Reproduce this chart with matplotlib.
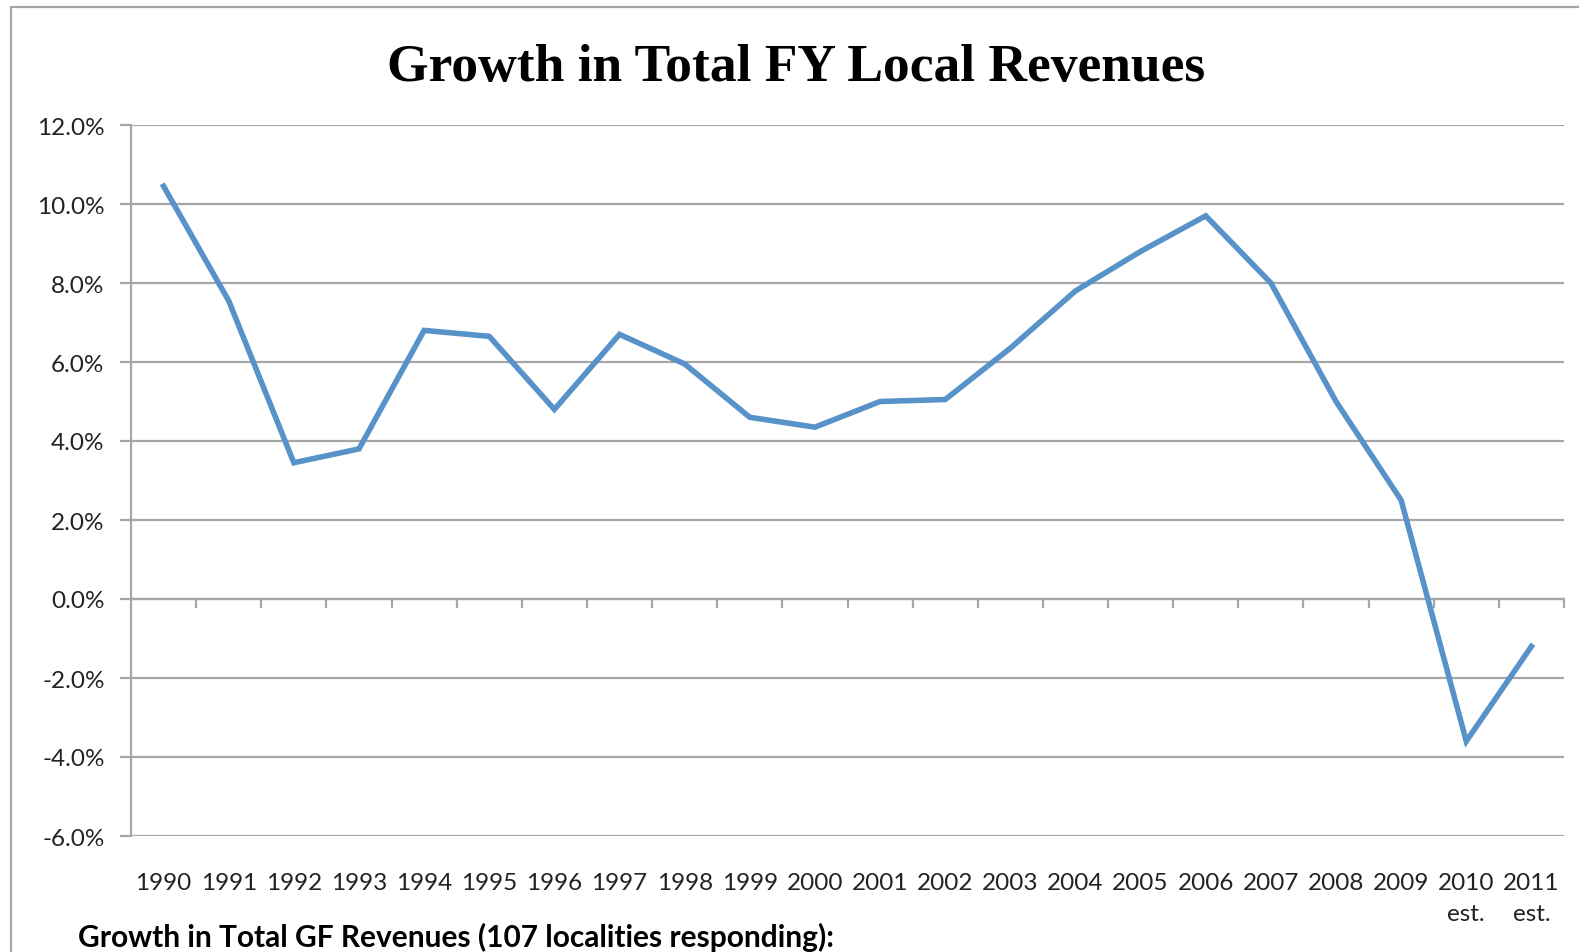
import numpy as np
import matplotlib.pyplot as plt
from matplotlib.patches import Rectangle
from matplotlib.ticker import FuncFormatter

# Data
years = ["1990", "1991", "1992", "1993", "1994", "1995", "1996", "1997", "1998", "1999", "2000",
         "2001", "2002", "2003", "2004", "2005", "2006", "2007", "2008", "2009", "2010\nest.", "2011\nest."]
growth = [10.45, 7.55, 3.45, 3.8, 6.8, 6.65, 4.8, 6.7, 5.95, 4.6, 4.35,
          5.0, 5.05, 6.35, 7.8, 8.8, 9.7, 8.0, 5.0, 2.5, -3.6, -1.2]
yticks = [-6, -4, -2, 0, 2, 4, 6, 8, 10, 12]

W, H = 1579, 953
fig = plt.figure(figsize=(W / 100, H / 100), dpi=100)
fig.patch.set_facecolor("white")

grid_col = "#a6a6a6"
line_col = "#5792c9"
lab_font = "Lato"

# outer chart border (only left and top are visible in the crop)
fig.patches.append(Rectangle((11 / W, -0.1), 1.2, (H - 8) / H + 0.1, transform=fig.transFigure,
                             fill=False, edgecolor=grid_col, linewidth=1.6))

ax = fig.add_axes([131 / W, 1 - 837 / H, (1564 - 131) / W, (837 - 126) / H])
x = np.arange(len(years))
ax.plot(x, growth, color=line_col, linewidth=4.0, solid_joinstyle="miter", zorder=3)

ax.set_xlim(-0.5, len(years) - 0.5)
ax.set_ylim(-6, 12)
ax.set_yticks(yticks)
ax.yaxis.set_major_formatter(FuncFormatter(lambda v, p: f"{v:.1f}%"))
ax.grid(axis="y", color=grid_col, linewidth=1.6)
ax.set_axisbelow(True)

for s in ["top", "right", "bottom"]:
    ax.spines[s].set_visible(False)
ax.spines["left"].set_color(grid_col)
ax.spines["left"].set_linewidth(1.6)
ax.tick_params(axis="y", length=8, width=1.6, color=grid_col, pad=11,
               labelsize=17.5, labelcolor="#222222")
for lab in ax.get_yticklabels():
    lab.set_family(lab_font)

# zero line with category boundary tick marks
ax.axhline(0, color=grid_col, linewidth=1.6, zorder=1)
ax.set_xticks([])
for b in np.arange(0.5, len(years), 1.0):
    ax.plot([b, b], [0, -0.2], color=grid_col, linewidth=1.6, zorder=1, clip_on=False)

# category labels below the plot area
for i, lab in enumerate(years):
    ax.annotate(lab, (i, -6), xytext=(0, -26), textcoords="offset points", ha="center", va="top",
                fontsize=17.5, family=lab_font, color="#222222", linespacing=1.6,
                annotation_clip=False)

fig.text(796 / W, 1 - 68 / H, "Growth in Total FY Local Revenues", ha="center", va="center",
         fontsize=38.5, fontweight="bold", family="Liberation Serif")
fig.text(78 / W, 1 - 937 / H, "Growth in Total GF Revenues (107 localities responding):",
         ha="left", va="center", fontsize=21.5, fontweight="bold", family=lab_font)

fig.savefig("out.png", dpi=100)
